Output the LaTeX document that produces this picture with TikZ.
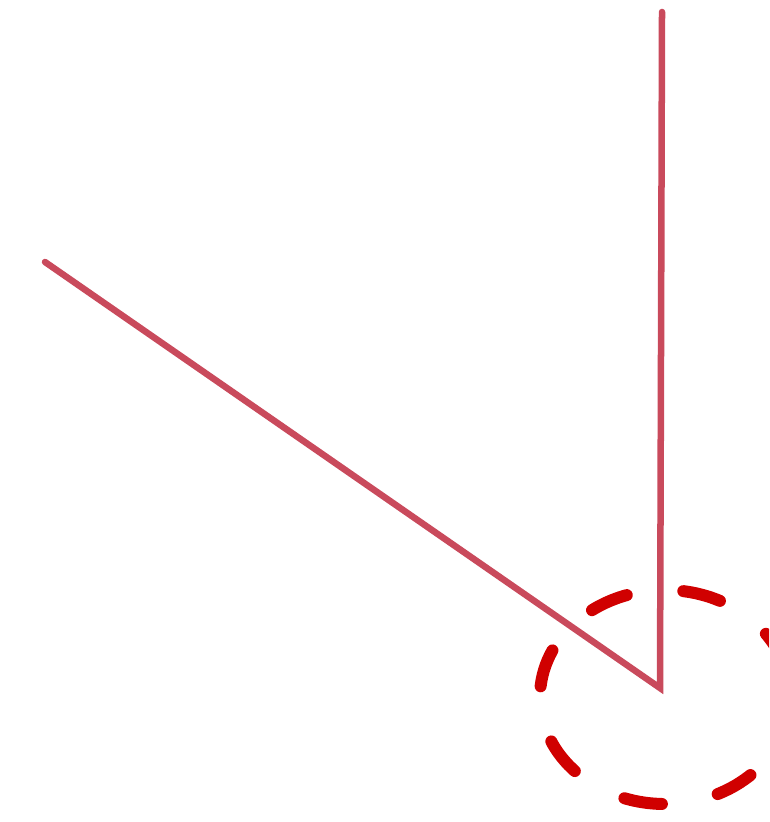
\documentclass[tikz,border=0pt]{standalone}
\usepackage{xcolor}
\usepackage{tikz}
\usetikzlibrary{positioning,calc}
\definecolor{stroke}{HTML}{C94A5C}
\definecolor{mark}{HTML}{D00000}

\begin{document}
\begin{tikzpicture}[
  x=0.01cm, y=-0.01cm,
  vline/.style={draw=stroke, line width=0.065cm, line join=miter, line cap=round},
  ring/.style={draw=mark, line width=0.12cm, line cap=round,
               dash pattern=on 0.38cm off 0.57cm, dash phase=0.045cm},
]
% ---------- frame ----------
\useasboundingbox (0,0) rectangle (769,822);
\clip (0,0) rectangle (769,822);
% ---------- the check stroke ----------
\coordinate (tail) at (45,262);
\coordinate (tip) at (660,688);
\coordinate (top) at (662,12);
\draw[vline] (tail) -- (tip) -- (top);
% ---------- dashed ring round the tip ----------
\coordinate (ringc) at (665,697);
\draw[ring] (ringc) ellipse [x radius=125, y radius=107];
\end{tikzpicture}
\end{document}
